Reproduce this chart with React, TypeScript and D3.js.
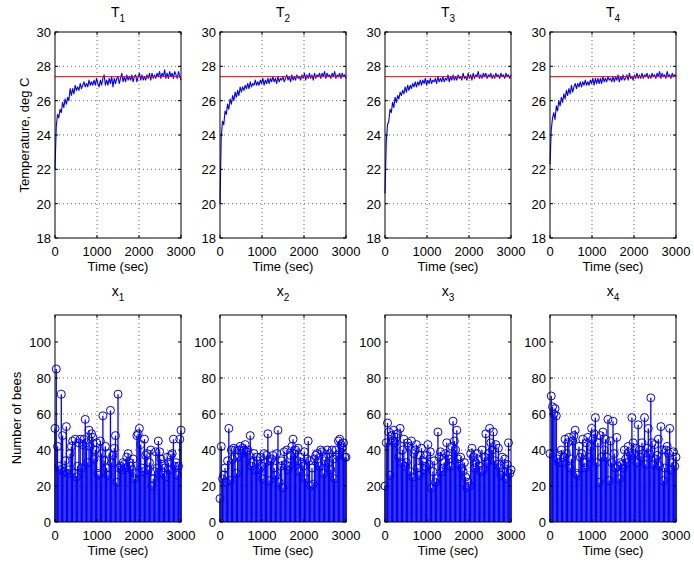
import React from 'react';
import * as d3 from 'd3';

const TIME = d3.range(0, 3001, 30);

const T1 = [
  22.0, 24.5, 25.2, 25.0, 25.5, 25.3, 25.9, 25.6, 26.1, 25.8,
  26.2, 26.0, 26.7, 26.3, 26.7, 26.4, 26.9, 26.6, 26.8, 26.6,
  27.0, 26.7, 26.9, 27.1, 26.8, 27.0, 26.8, 27.2, 26.9, 27.1,
  26.9, 27.2, 26.9, 27.3, 27.0, 26.8, 27.2, 26.9, 27.3, 27.5,
  26.9, 27.2, 26.9, 27.3, 27.0, 27.4, 26.8, 27.3, 27.0, 27.3,
  27.4, 27.0, 27.3, 27.6, 27.1, 27.4, 27.1, 27.5, 27.2, 27.4,
  27.2, 27.5, 27.1, 27.4, 27.5, 27.1, 27.4, 27.6, 27.2, 27.5,
  27.2, 27.4, 27.2, 27.5, 27.3, 27.6, 27.2, 27.6, 27.3, 27.5,
  27.3, 27.6, 27.4, 27.7, 27.3, 27.6, 27.4, 27.8, 27.3, 27.6,
  27.3, 27.7, 27.4, 27.6, 27.3, 27.7, 27.5, 27.3, 27.7, 27.4,
  27.2,
];
const T2 = [
  20.0, 23.9, 24.8, 24.6, 25.4, 25.2, 25.8, 25.5, 26.1, 25.8,
  26.3, 26.0, 26.5, 26.2, 26.6, 26.3, 26.8, 26.5, 26.8, 26.6,
  26.9, 26.7, 27.0, 26.7, 27.1, 26.8, 27.0, 26.9, 27.2, 26.9,
  27.1, 26.9, 27.2, 27.0, 27.3, 26.9, 27.2, 27.0, 27.3, 27.0,
  27.3, 27.1, 27.4, 27.1, 27.3, 27.0, 27.4, 27.1, 27.3, 27.2,
  27.4, 27.1, 27.3, 27.5, 27.2, 27.4, 27.1, 27.5, 27.2, 27.4,
  27.2, 27.5, 27.3, 27.4, 27.2, 27.5, 27.3, 27.6, 27.2, 27.5,
  27.3, 27.6, 27.3, 27.5, 27.2, 27.6, 27.3, 27.5, 27.4, 27.6,
  27.3, 27.6, 27.4, 27.7, 27.3, 27.6, 27.4, 27.5, 27.3, 27.6,
  27.4, 27.7, 27.3, 27.5, 27.4, 27.6, 27.3, 27.6, 27.4, 27.5,
  27.3,
];
const T3 = [
  20.6, 23.6, 24.6, 24.8, 25.5, 25.3, 25.9, 25.6, 26.2, 25.9,
  26.3, 26.1, 26.5, 26.3, 26.6, 26.4, 26.8, 26.5, 26.9, 26.6,
  26.9, 26.7, 27.0, 26.8, 27.1, 26.8, 27.1, 26.9, 27.2, 26.9,
  27.2, 27.0, 27.3, 26.9, 27.2, 27.0, 27.3, 27.0, 27.2, 27.1,
  27.3, 27.0, 27.4, 27.1, 27.3, 27.1, 27.4, 27.1, 27.3, 27.2,
  27.5, 27.1, 27.4, 27.2, 27.5, 27.2, 27.4, 27.2, 27.5, 27.3,
  27.4, 27.2, 27.6, 27.3, 27.4, 27.2, 27.6, 27.3, 27.5, 27.2,
  27.6, 27.3, 27.5, 27.4, 27.7, 27.3, 27.5, 27.3, 27.6, 27.4,
  27.6, 27.3, 27.5, 27.4, 27.6, 27.3, 27.5, 27.3, 27.6, 27.4,
  27.5, 27.3, 27.6, 27.4, 27.5, 27.3, 27.6, 27.4, 27.5, 27.3,
  27.5,
];
const T4 = [
  22.3, 24.3, 25.0, 25.3, 24.9, 25.7, 25.4, 26.0, 25.7, 26.2,
  25.9, 26.4, 26.1, 26.6, 26.3, 26.7, 26.4, 26.9, 26.5, 26.8,
  27.0, 26.7, 27.0, 26.8, 27.1, 26.8, 27.1, 26.9, 27.2, 26.9,
  27.1, 26.9, 27.2, 27.0, 27.3, 26.9, 27.3, 27.0, 27.3, 27.0,
  27.3, 27.0, 27.4, 27.1, 27.3, 27.1, 27.4, 27.2, 27.3, 27.1,
  27.4, 27.1, 27.4, 27.2, 27.5, 27.1, 27.4, 27.2, 27.5, 27.2,
  27.3, 27.5, 27.2, 27.6, 27.3, 27.4, 27.2, 27.5, 27.3, 27.6,
  27.3, 27.5, 27.3, 27.6, 27.3, 27.5, 27.4, 27.6, 27.3, 27.5,
  27.3, 27.6, 27.4, 27.5, 27.3, 27.6, 27.4, 27.7, 27.3, 27.6,
  27.4, 27.5, 27.3, 27.7, 27.4, 27.5, 27.3, 27.6, 27.4, 27.5,
  27.4,
];

const X1 = [
  52, 85, 42, 31, 29, 71, 48, 28, 34, 53,
  27, 29, 38, 42, 45, 27, 46, 25, 31, 44,
  46, 30, 43, 46, 57, 44, 33, 51, 42, 49,
  47, 35, 40, 44, 27, 26, 45, 38, 59, 34,
  42, 30, 26, 38, 62, 33, 37, 41, 48, 22,
  71, 30, 31, 29, 33, 32, 30, 36, 38, 33,
  31, 29, 35, 24, 27, 48, 49, 52, 43, 30,
  28, 46, 37, 38, 29, 33, 40, 20, 24, 28,
  39, 30, 45, 39, 35, 32, 27, 30, 25, 36,
  33, 29, 37, 38, 46, 31, 33, 26, 31, 46,
  51,
];
const X2 = [
  13, 42, 24, 26, 30, 22, 34, 52, 23, 40,
  35, 41, 40, 27, 36, 40, 42, 38, 41, 40,
  43, 39, 40, 37, 48, 31, 33, 38, 29, 36,
  34, 29, 36, 31, 24, 38, 33, 37, 49, 23,
  34, 35, 37, 30, 26, 38, 51, 22, 31, 34,
  19, 39, 32, 40, 29, 31, 37, 42, 46, 38,
  40, 34, 41, 28, 36, 33, 31, 39, 24, 35,
  45, 34, 20, 30, 21, 35, 37, 38, 33, 31,
  40, 39, 27, 34, 36, 40, 33, 38, 29, 40,
  35, 24, 40, 37, 45, 46, 43, 41, 44, 36,
  36,
];
const X3 = [
  20, 44, 55, 50, 26, 48, 45, 51, 44, 47,
  49, 36, 52, 33, 40, 46, 31, 33, 44, 42,
  28, 45, 25, 38, 40, 43, 30, 26, 37, 41,
  34, 29, 31, 37, 43, 32, 39, 19, 28, 34,
  22, 24, 50, 36, 39, 28, 30, 33, 38, 44,
  37, 35, 31, 42, 56, 45, 40, 51, 35, 32,
  36, 30, 28, 33, 25, 19, 22, 20, 38, 41,
  36, 30, 33, 38, 35, 31, 28, 40, 29, 36,
  49, 33, 38, 52, 44, 40, 50, 34, 43, 32,
  41, 30, 26, 36, 28, 35, 24, 32, 44, 27,
  29,
];
const X4 = [
  38, 70, 64, 60, 63, 59, 35, 33, 37, 40,
  33, 36, 46, 38, 44, 47, 30, 35, 45, 48,
  51, 27, 26, 42, 36, 38, 46, 33, 30, 44,
  47, 36, 42, 52, 46, 49, 58, 33, 44, 22,
  48, 36, 50, 40, 46, 36, 57, 23, 45, 33,
  56, 38, 30, 47, 31, 24, 33, 32, 30, 40,
  35, 33, 42, 39, 37, 58, 44, 38, 41, 33,
  54, 40, 36, 44, 38, 58, 32, 41, 52, 38,
  69, 44, 32, 43, 35, 37, 46, 31, 53, 40,
  23, 30, 40, 42, 38, 52, 29, 33, 39, 31,
  36,
];

const TEMPS = [T1, T2, T3, T4];
const BEES = [X1, X2, X3, X4];
const SUBS = ['1', '2', '3', '4'];
const X_TICKS = [0, 1000, 2000, 3000];
const T_TICKS = [18, 20, 22, 24, 26, 28, 30];
const B_TICKS = [0, 20, 40, 60, 80, 100];
const SETPOINT = 27.4;

const FONT = '"Liberation Sans", Arial, Helvetica, sans-serif';
const BLUE = '#0000ff';

const COL_LEFT = [55, 220, 385, 550];
const PW = 126;
const TOP_ROW = { y0: 32, y1: 238 };
const BOT_ROW = { y0: 315, y1: 522 };

function Grid({ x, yTop, yBot, ys, xs, yTicks }: any) {
  return (
    <g>
      {X_TICKS.slice(1, -1).map((t) => (
        <line key={'gx' + t} x1={xs(t)} x2={xs(t)} y1={yTop} y2={yBot} stroke="#444" strokeWidth={0.8} strokeDasharray="1,3" />
      ))}
      {yTicks.slice(1, -1).map((t: number) => (
        <line key={'gy' + t} x1={x} x2={x + PW} y1={ys(t)} y2={ys(t)} stroke="#444" strokeWidth={0.8} strokeDasharray="1,3" />
      ))}
    </g>
  );
}

function Axes({ x, yTop, yBot, ys, xs, yTicks }: any) {
  const tick = 3;
  return (
    <g fontFamily={FONT} fontSize={13} fill="#000">
      <rect x={x} y={yTop} width={PW} height={yBot - yTop} fill="none" stroke="#000" strokeWidth={1} />
      {X_TICKS.map((t) => (
        <g key={'xt' + t}>
          <line x1={xs(t)} x2={xs(t)} y1={yBot} y2={yBot - tick} stroke="#000" />
          <line x1={xs(t)} x2={xs(t)} y1={yTop} y2={yTop + tick} stroke="#000" />
          <text x={xs(t)} y={yBot + 18} textAnchor="middle">{t}</text>
        </g>
      ))}
      {yTicks.map((t: number) => (
        <g key={'yt' + t}>
          <line x1={x} x2={x + tick} y1={ys(t)} y2={ys(t)} stroke="#000" />
          <line x1={x + PW} x2={x + PW - tick} y1={ys(t)} y2={ys(t)} stroke="#000" />
          <text x={x - 4} y={ys(t) + 5} textAnchor="end">{t}</text>
        </g>
      ))}
      <text x={x + PW / 2} y={yBot + 33} textAnchor="middle">Time (sec)</text>
    </g>
  );
}

export default function App() {
  const tScale = d3.scaleLinear().domain([18, 30]).range([TOP_ROW.y1, TOP_ROW.y0]);
  const bScale = d3.scaleLinear().domain([0, 115]).range([BOT_ROW.y1, BOT_ROW.y0]);

  return (
    <svg width={694} height={563} style={{ position: 'absolute', left: 0, top: 0, background: '#fff' }}>
      <rect x={0} y={0} width={694} height={563} fill="#fff" />
      {COL_LEFT.map((x0, i) => {
        const xs = d3.scaleLinear().domain([0, 3000]).range([x0, x0 + PW]);
        const line = d3.line<number>().x((_, k) => xs(TIME[k])).y((d) => tScale(d));
        const temps = TEMPS[i];
        const bees = BEES[i];
        return (
          <g key={i}>
            <rect x={x0} y={TOP_ROW.y0} width={PW} height={TOP_ROW.y1 - TOP_ROW.y0} fill="#fff" />
            <Grid x={x0} yTop={TOP_ROW.y0} yBot={TOP_ROW.y1} ys={tScale} xs={xs} yTicks={T_TICKS} />
            <path d={line(temps) || ''} fill="none" stroke={BLUE} strokeWidth={1.1} strokeLinejoin="round" />
            <line x1={xs(0)} x2={xs(3000)} y1={tScale(SETPOINT)} y2={tScale(SETPOINT)} stroke="#ff0000" strokeWidth={1} />
            <Axes x={x0} yTop={TOP_ROW.y0} yBot={TOP_ROW.y1} ys={tScale} xs={xs} yTicks={T_TICKS} />
            <text x={x0 + PW / 2} y={17} textAnchor="middle" fontFamily={FONT} fontSize={14}>
              T<tspan fontSize={10} dy={5}>{SUBS[i]}</tspan>
            </text>

            <rect x={x0} y={BOT_ROW.y0} width={PW} height={BOT_ROW.y1 - BOT_ROW.y0} fill="#fff" />
            <Grid x={x0} yTop={BOT_ROW.y0} yBot={BOT_ROW.y1} ys={bScale} xs={xs} yTicks={B_TICKS} />
            <g>
              {bees.map((v, k) => (
                <line key={'s' + k} x1={xs(TIME[k])} x2={xs(TIME[k])} y1={bScale(0)} y2={bScale(v)} stroke={BLUE} strokeWidth={1.3} />
              ))}
              {bees.map((v, k) => (
                <circle key={'c' + k} cx={xs(TIME[k])} cy={bScale(v)} r={4} fill="none" stroke={BLUE} strokeWidth={1} />
              ))}
            </g>
            <Axes x={x0} yTop={BOT_ROW.y0} yBot={BOT_ROW.y1} ys={bScale} xs={xs} yTicks={B_TICKS} />
            <text x={x0 + PW / 2} y={296} textAnchor="middle" fontFamily={FONT} fontSize={14}>
              x<tspan fontSize={10} dy={5}>{SUBS[i]}</tspan>
            </text>
          </g>
        );
      })}
      <text transform="translate(29,135) rotate(-90)" textAnchor="middle" fontFamily={FONT} fontSize={13}>Temperature, deg C</text>
      <text transform="translate(21,418) rotate(-90)" textAnchor="middle" fontFamily={FONT} fontSize={13}>Number of bees</text>
    </svg>
  );
}
